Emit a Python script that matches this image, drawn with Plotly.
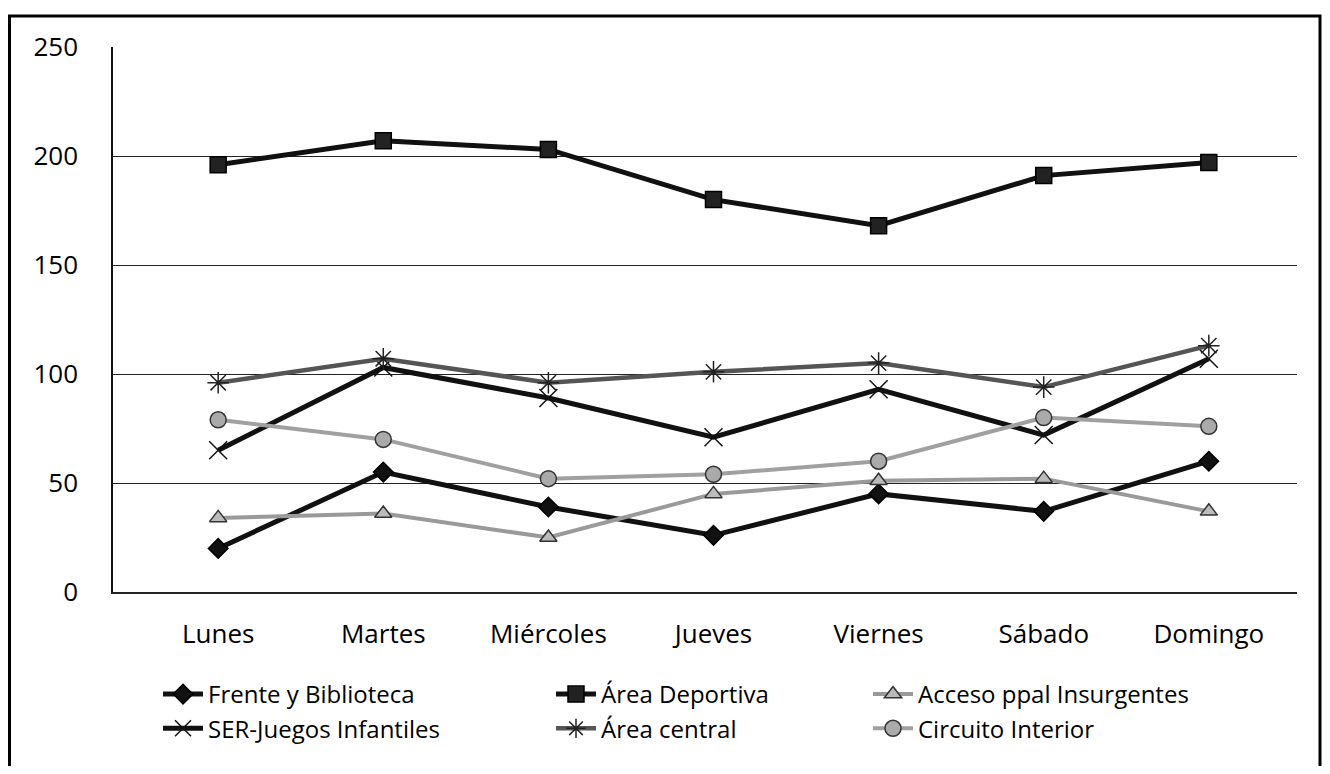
import plotly.graph_objects as go

dias = ["Lunes", "Martes", "Miércoles", "Jueves", "Viernes", "Sábado", "Domingo"]
frente = [20, 55, 39, 26, 45, 37, 60]
deportiva = [196, 207, 203, 180, 168, 191, 197]
acceso = [34, 36, 25, 45, 51, 52, 37]
ser = [65, 103, 89, 71, 93, 72, 107]
central = [96, 107, 96, 101, 105, 94, 113]
circuito = [79, 70, 52, 54, 60, 80, 76]
yticks = [0, 50, 100, 150, 200, 250]

FONT = "Open Sans"
fig = go.Figure()

def add(name, y, color, width, symbol, msize, mcolor, mline, legend):
    fig.add_trace(go.Scatter(
        x=dias, y=y, name=name, mode="lines+markers",
        line=dict(color=color, width=width),
        marker=dict(symbol=symbol, size=msize, color=mcolor,
                    line=dict(color=mline, width=1.5)),
        legend=legend))

add("Frente y Biblioteca", frente, "#111111", 5, "diamond", 15, "#111111", "#000000", "legend")
add("SER-Juegos Infantiles", ser, "#111111", 5, "x-thin-open", 18, "#111111", "#111111", "legend")
add("Área Deportiva", deportiva, "#111111", 5, "square", 16, "#222222", "#000000", "legend2")
add("Área central", central, "#555555", 4.5, "asterisk-open", 18, "#222222", "#222222", "legend2")
add("Acceso ppal Insurgentes", acceso, "#9a9a9a", 4, "triangle-up", 15, "#bbbbbb", "#333333", "legend3")
add("Circuito Interior", circuito, "#a0a0a0", 4, "circle", 16, "#aaaaaa", "#333333", "legend3")

# the page body adds an 8px offset on screen
OFF = 8
W, H = 1314, 758
L, T = 113 - OFF, 47 - OFF
R = W - (1297 - OFF)
B = H - (592 - OFF)
pw = W - L - R
ph = H - T - B

def px(x):
    return (x - OFF - L) / pw

def py(y):
    return (H - B - (y - OFF)) / ph

legend_common = dict(orientation="v", font=dict(family=FONT, size=24, color="#000"),
                     bgcolor="rgba(0,0,0,0)", tracegroupgap=2, itemwidth=40,
                     xanchor="left", yanchor="top")

fig.update_layout(
    width=W, height=H,
    margin=dict(l=L, r=R, t=T, b=B),
    paper_bgcolor="white", plot_bgcolor="white",
    font=dict(family=FONT, size=24, color="#000"),
    legend=dict(x=px(158), y=py(672), **legend_common),
    legend2=dict(x=px(551), y=py(672), **legend_common),
    legend3=dict(x=px(868), y=py(672), **legend_common),
    xaxis=dict(type="category", range=[-0.637, 6.534], showgrid=False, showline=True,
               linecolor="#222", linewidth=1.5, ticks="", ticklabelstandoff=18,
               tickfont=dict(family=FONT, size=26, color="#000"), fixedrange=True),
    yaxis=dict(range=[0, 250], tickvals=yticks, showgrid=True, gridcolor="#222",
               gridwidth=1, showline=True, linecolor="#111", linewidth=1.5,
               ticks="", zeroline=False, ticklabelstandoff=28,
               tickfont=dict(family=FONT, size=26, color="#000")),
    shapes=[dict(type="rect", xref="paper", yref="paper",
                 x0=px(9.5), x1=px(1320), y0=py(800), y1=py(16),
                 line=dict(color="#000", width=3))],
)

fig.write_html("out.html")
